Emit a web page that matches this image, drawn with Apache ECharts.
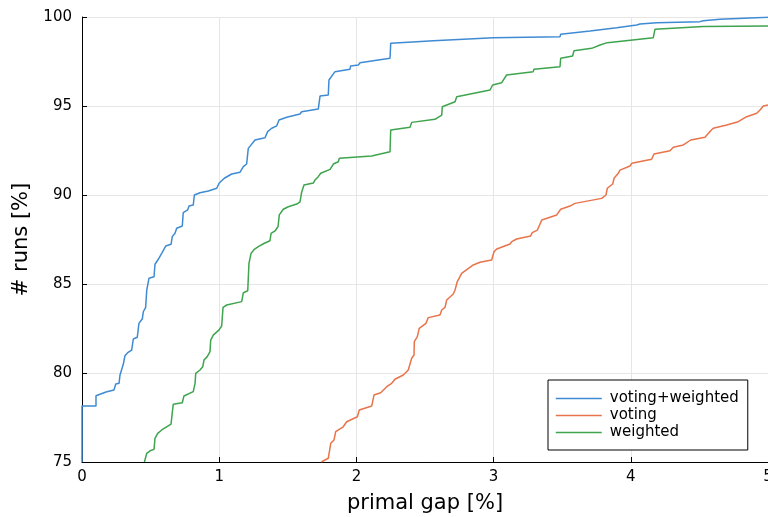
<!DOCTYPE html>
<html>
<head>
<meta charset="utf-8">
<script src="https://cdn.jsdelivr.net/npm/echarts@6/dist/echarts.min.js"></script>
<style>html,body{margin:0;padding:0;background:#fff}#c{width:768px;height:517px}</style>
</head>
<body>
<div id="c"></div>
<script>
const seriesNames = ['voting+weighted', 'voting', 'weighted'];
const xTicks = [0, 1, 2, 3, 4, 5];
const yTicks = [75, 80, 85, 90, 95, 100];

// voting+weighted: [primal gap %, runs %]
const votingWeighted = [
  [0,75.0],[0,78.15],[0.102,78.15],[0.102,78.72],[0.175,78.93],[0.233,79.04],[0.246,79.38],[0.270,79.42],
  [0.277,79.89],[0.301,80.49],[0.313,80.97],[0.333,81.14],[0.362,81.29],[0.374,81.91],[0.403,82.01],
  [0.415,82.79],[0.440,83.05],[0.447,83.44],[0.464,83.69],[0.472,84.66],[0.488,85.32],[0.525,85.41],
  [0.532,86.11],[0.556,86.39],[0.581,86.72],[0.610,87.13],[0.649,87.23],[0.658,87.66],[0.678,87.85],
  [0.690,88.13],[0.731,88.26],[0.738,89.01],[0.770,89.16],[0.780,89.38],[0.811,89.44],[0.819,90.00],
  [0.860,90.13],[0.921,90.22],[0.982,90.38],[0.999,90.66],[1.037,90.94],[1.091,91.18],[1.152,91.28],
  [1.176,91.59],[1.200,91.74],[1.212,92.62],[1.261,93.09],[1.334,93.22],[1.353,93.56],[1.383,93.75],
  [1.419,93.88],[1.436,94.21],[1.492,94.37],[1.589,94.55],[1.601,94.68],[1.722,94.83],[1.735,95.56],
  [1.795,95.62],[1.800,96.46],[1.844,96.93],[1.953,97.06],[1.958,97.25],[2.014,97.30],[2.026,97.43],
  [2.111,97.53],[2.123,97.58],[2.245,97.68],[2.250,98.52],[2.440,98.61],[2.561,98.67],[2.998,98.84],
  [3.484,98.89],[3.489,99.03],[3.703,99.21],[3.715,99.31],[3.897,99.40],[3.909,99.49],[4.043,99.55],
  [4.067,99.61],[4.189,99.68],[4.504,99.74],[4.528,99.79],[4.650,99.87],[5.0,99.98]
];

// voting
const voting = [
  [1.745,75.0],[1.795,75.21],[1.813,76.05],[1.837,76.24],[1.849,76.70],[1.904,76.98],[1.929,77.26],
  [2.007,77.54],[2.021,77.92],[2.112,78.15],[2.128,78.76],[2.177,78.89],[2.221,79.23],[2.257,79.42],
  [2.281,79.65],[2.342,79.89],[2.378,80.17],[2.403,80.83],[2.420,81.01],[2.422,81.76],[2.444,82.04],
  [2.458,82.51],[2.507,82.79],[2.524,83.11],[2.609,83.26],[2.622,83.54],[2.646,83.69],[2.658,84.10],
  [2.706,84.44],[2.719,84.66],[2.735,85.13],[2.755,85.41],[2.767,85.60],[2.852,86.07],[2.901,86.22],
  [2.986,86.35],[3.003,86.81],[3.023,86.97],[3.120,87.25],[3.132,87.38],[3.168,87.53],[3.270,87.70],
  [3.282,87.89],[3.319,88.03],[3.335,88.31],[3.351,88.60],[3.460,88.88],[3.489,89.20],[3.557,89.38],
  [3.593,89.53],[3.788,89.81],[3.819,90.00],[3.829,90.38],[3.868,90.62],[3.878,90.94],[3.909,91.22],
  [3.921,91.40],[3.994,91.63],[4.007,91.78],[4.152,92.01],[4.169,92.30],[4.286,92.49],[4.310,92.68],
  [4.383,92.81],[4.437,93.09],[4.541,93.24],[4.582,93.61],[4.601,93.75],[4.699,93.93],[4.783,94.12],
  [4.845,94.40],[4.918,94.59],[4.942,94.78],[4.966,95.00],[5.0,95.06]
];

// weighted
const weighted = [
  [0.455,75.0],[0.472,75.49],[0.496,75.63],[0.525,75.71],[0.532,76.33],[0.552,76.61],[0.581,76.80],
  [0.649,77.13],[0.658,77.77],[0.665,78.24],[0.731,78.33],[0.743,78.71],[0.811,78.95],[0.824,79.42],
  [0.829,79.98],[0.860,80.17],[0.880,80.35],[0.889,80.73],[0.913,80.92],[0.933,81.20],[0.938,81.85],
  [0.957,82.13],[0.999,82.42],[1.018,82.64],[1.028,83.69],[1.055,83.82],[1.164,84.01],[1.176,84.51],
  [1.208,84.62],[1.212,85.32],[1.217,86.16],[1.232,86.72],[1.256,86.95],[1.285,87.10],[1.329,87.29],
  [1.370,87.43],[1.378,87.84],[1.407,87.98],[1.429,88.23],[1.438,88.88],[1.467,89.20],[1.504,89.34],
  [1.565,89.49],[1.589,89.62],[1.601,90.16],[1.618,90.56],[1.686,90.67],[1.698,90.84],[1.722,91.03],
  [1.740,91.22],[1.747,91.31],[1.808,91.44],[1.832,91.74],[1.868,91.87],[1.876,92.06],[2.111,92.19],
  [2.123,92.30],[2.245,92.43],[2.250,93.65],[2.391,93.80],[2.403,94.08],[2.573,94.25],[2.622,94.49],
  [2.626,94.96],[2.719,95.24],[2.731,95.52],[2.974,95.90],[2.993,96.18],[3.059,96.31],[3.095,96.74],
  [3.289,96.93],[3.294,97.06],[3.484,97.21],[3.489,97.68],[3.576,97.81],[3.586,98.11],[3.715,98.24],
  [3.776,98.43],[3.829,98.56],[4.164,98.84],[4.176,99.31],[4.528,99.46],[5.0,99.49]
];

const colors = ['#3f8bd3', '#e8744b', '#3ea44e'];
const FONT = 'DejaVu Sans';

const chart = echarts.init(document.getElementById('c'), null, {renderer: 'canvas'});
chart.setOption({
  animation: false,
  backgroundColor: '#ffffff',
  color: colors,
  textStyle: {fontFamily: FONT},
  grid: {left: 82, right: 0, top: 17, bottom: 55, containLabel: false, outerBoundsMode: 'none'},
  xAxis: {
    type: 'value',
    min: xTicks[0], max: xTicks[xTicks.length - 1], interval: 1,
    name: 'primal gap [%]', nameLocation: 'middle', nameGap: 31,
    nameTextStyle: {fontFamily: FONT, fontSize: 21, color: '#000'},
    axisLine: {show: true, onZero: false, lineStyle: {color: '#000', width: 1}},
    axisTick: {show: true, inside: true, length: 5, lineStyle: {color: '#000', width: 1}},
    axisLabel: {fontFamily: FONT, fontSize: 15, color: '#000', margin: 8},
    splitLine: {show: true, lineStyle: {color: '#e6e6e6', width: 1}}
  },
  yAxis: {
    type: 'value',
    min: yTicks[0], max: yTicks[yTicks.length - 1], interval: 5,
    name: '# runs [%]', nameLocation: 'middle', nameGap: 50, nameRotate: 90,
    nameTextStyle: {fontFamily: FONT, fontSize: 21, color: '#000'},
    axisLine: {show: true, onZero: false, lineStyle: {color: '#000', width: 1}},
    axisTick: {show: true, inside: true, length: 5, lineStyle: {color: '#000', width: 1}},
    axisLabel: {fontFamily: FONT, fontSize: 15, color: '#000', margin: 10},
    splitLine: {show: true, lineStyle: {color: '#e6e6e6', width: 1}}
  },
  legend: {
    orient: 'vertical',
    left: 548, top: 380,
    padding: [11, 9, 10, 7],
    itemWidth: 46, itemHeight: 14, itemGap: 2,
    itemStyle: {color: 'rgba(0,0,0,0)', borderWidth: 0, opacity: 0},
    lineStyle: {width: 1.5},
    borderColor: '#000', borderWidth: 1,
    backgroundColor: '#fff',
    textStyle: {fontFamily: FONT, fontSize: 15, color: '#000', lineHeight: 15, padding: [0, 0, 0, 3]},
    data: seriesNames
  },
  series: [
    {name: seriesNames[0], type: 'line', data: votingWeighted, symbol: 'none', lineStyle: {width: 1.5}},
    {name: seriesNames[1], type: 'line', data: voting, symbol: 'none', lineStyle: {width: 1.5}},
    {name: seriesNames[2], type: 'line', data: weighted, symbol: 'none', lineStyle: {width: 1.5}}
  ]
});
</script>
</body>
</html>
